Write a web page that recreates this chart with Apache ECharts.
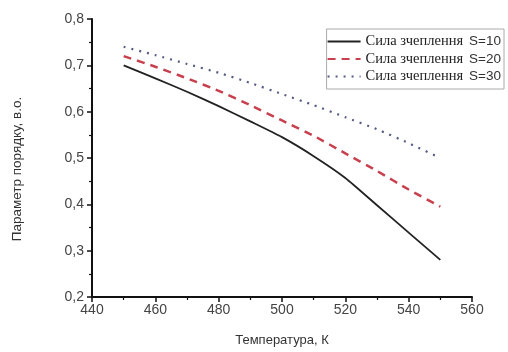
<!DOCTYPE html>
<html><head><meta charset="utf-8">
<script src="https://cdn.jsdelivr.net/npm/echarts@6/dist/echarts.min.js"></script>
<style>html,body{margin:0;padding:0;background:#fff}#c{width:508px;height:352px}</style>
</head><body><div id="c"></div>
<script>
const temps = [450, 460, 470, 480, 490, 500, 510, 520, 530, 540, 550];
const s10 = [0.700, 0.672, 0.643, 0.612, 0.579, 0.545, 0.504, 0.457, 0.398, 0.339, 0.280];
const s20 = [0.720, 0.697, 0.672, 0.645, 0.614, 0.581, 0.548, 0.510, 0.472, 0.432, 0.395];
const s30 = [0.740, 0.722, 0.703, 0.684, 0.662, 0.638, 0.614, 0.588, 0.562, 0.532, 0.500];
const seriesNames = ['Сила зчеплення S=10', 'Сила зчеплення S=20', 'Сила зчеплення S=30'];
const xTitle = 'Температура, К';
const yTitle = 'Параметр порядку, в.о.';

const chart = echarts.init(document.getElementById('c'), null, {renderer: 'canvas'});
const pair = arr => temps.map((t, i) => [t, arr[i]]);
const axisCommon = {
  axisLine: {show: true, onZero: false, lineStyle: {color: '#111', width: 2}},
  axisTick: {show: true, inside: false, length: 5, lineStyle: {color: '#111', width: 1.5}},
  minorTick: {show: true, splitNumber: 2, length: 3, lineStyle: {color: '#111', width: 1.2}},
  splitLine: {show: false},
  axisLabel: {color: '#444', fontFamily: 'Liberation Sans', fontSize: 14}
};
chart.setOption({
  animation: false,
  backgroundColor: '#fff',
  grid: {left: 92, right: 36, top: 19, bottom: 52},
  legend: {
    right: 4, top: 29, orient: 'vertical',
    itemWidth: 33, itemHeight: 14, itemGap: 2.5,
    padding: [5, 3, 5, 0],
    borderColor: '#aaa', borderWidth: 1,
    backgroundColor: '#fff',
    itemStyle: {opacity: 0},
    formatter: n => {
      const parts = n.split(' S=');
      return '{a|' + parts[0] + '}{b|S=' + parts[1] + '}';
    },
    textStyle: {
      rich: {
        a: {fontFamily: 'Liberation Serif', fontSize: 14.5, color: '#222'},
        b: {fontFamily: 'Liberation Sans', fontSize: 13.5, color: '#333', padding: [0, 0, 0, 6]}
      }
    },
    data: seriesNames
  },
  xAxis: Object.assign({}, axisCommon, {
    type: 'value', min: 440, max: 560, interval: 20,
    name: xTitle, nameLocation: 'middle', nameGap: 37,
    nameTextStyle: {fontFamily: 'Liberation Sans', fontSize: 13, color: '#333'},
    axisLabel: Object.assign({}, axisCommon.axisLabel, {margin: 6})
  }),
  yAxis: Object.assign({}, axisCommon, {
    type: 'value', min: 0.2, max: 0.8, interval: 0.1,
    name: yTitle, nameLocation: 'middle', nameGap: 68,
    nameTextStyle: {fontFamily: 'Liberation Sans', fontSize: 13.5, color: '#333', padding: [0, 0, 0, -22]},
    axisLabel: Object.assign({}, axisCommon.axisLabel, {margin: 8,
      formatter: v => v.toFixed(1).replace('.', ',')})
  }),
  series: [
    {name: seriesNames[0], type: 'line', data: pair(s10), symbol: 'none', smooth: 0.2,
     lineStyle: {color: '#222', width: 1.8, type: 'solid'}, itemStyle: {color: '#222'}},
    {name: seriesNames[1], type: 'line', data: pair(s20), symbol: 'none', smooth: 0.2,
     lineStyle: {color: '#c8404e', width: 2.5, type: [8, 6]}, itemStyle: {color: '#c8404e'}},
    {name: seriesNames[2], type: 'line', data: pair(s30), symbol: 'none', smooth: 0.2,
     lineStyle: {color: '#555a80', width: 2.2, type: [2, 6]}, itemStyle: {color: '#555a80'}}
  ]
});
</script></body></html>
